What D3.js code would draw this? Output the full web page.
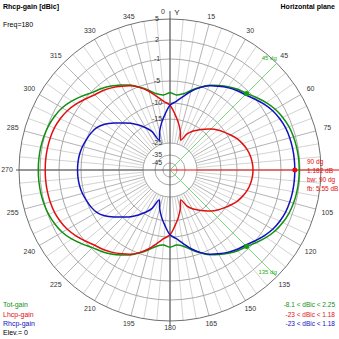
<!DOCTYPE html>
<html><head><meta charset="utf-8">
<script src="https://cdn.jsdelivr.net/npm/d3@7"></script>
<style>
html,body{margin:0;padding:0;background:#fff;}
svg{display:block;font-family:"Liberation Sans",Arial,sans-serif;}
</style></head><body>
<svg id="chart" width="339" height="339"></svg>
<script>
// Azimuth of each sample (degrees, clockwise from the Y axis)
const azimuths = [0,5,10,15,20,25,30,35,40,45,50,55,60,65,70,75,80,85,
  90,95,100,105,110,115,120,125,130,135,140,145,150,155,160,165,170,175,
  180,185,190,195,200,205,210,215,220,225,230,235,240,245,250,255,260,265,
  270,275,280,285,290,295,300,305,310,315,320,325,330,335,340,345,350,355];

// Gain per azimuth, dBic
const totGain = [-7.69,-8.09,-7.65,-6.48,-5.23,-4.18,-3.43,-2.69,-2.03,-1.49,-0.72,0.02,0.66,1.12,1.46,1.67,1.79,1.86,
  1.88,1.86,1.79,1.67,1.46,1.12,0.66,0.02,-0.72,-1.49,-2.03,-2.69,-3.43,-4.18,-5.23,-6.48,-7.65,-8.09,
  -7.69,-8.09,-7.65,-6.48,-5.23,-4.14,-3.35,-2.56,-1.85,-1.23,-0.39,0.44,1.13,1.57,1.89,2.07,2.18,2.23,
  2.25,2.23,2.18,2.07,1.89,1.57,1.13,0.44,-0.39,-1.23,-1.85,-2.56,-3.35,-4.14,-5.23,-6.48,-7.65,-8.09];
const lhcpGain = [-10.7,-13.4,-16.2,-19.6,-23.0,-19.8,-17.6,-15.9,-14.3,-12.8,-11.5,-10.3,-9.3,-8.4,-7.7,-7.1,-6.7,-6.45,
  -6.36,-6.45,-6.7,-7.1,-7.7,-8.4,-9.3,-10.3,-11.5,-12.8,-14.3,-15.9,-17.6,-19.8,-23.0,-19.6,-16.2,-13.4,
  -10.7,-9.6,-8.3,-6.7,-5.3,-4.3,-3.6,-2.9,-2.3,-1.82,-1.1,-0.4,0.2,0.6,0.9,1.05,1.13,1.17,
  1.18,1.17,1.13,1.05,0.9,0.6,0.2,-0.4,-1.1,-1.82,-2.3,-2.9,-3.6,-4.3,-5.3,-6.7,-8.3,-9.6];
const rhcpGain = [-10.7,-9.6,-8.3,-6.7,-5.3,-4.3,-3.6,-2.9,-2.3,-1.82,-1.1,-0.4,0.2,0.6,0.9,1.05,1.13,1.17,
  1.18,1.17,1.13,1.05,0.9,0.6,0.2,-0.4,-1.1,-1.82,-2.3,-2.9,-3.6,-4.3,-5.3,-6.7,-8.3,-9.6,
  -10.7,-13.4,-16.2,-19.6,-23.0,-18.6,-15.9,-13.8,-11.9,-10.2,-8.6,-7.1,-6.0,-5.4,-5.0,-4.7,-4.5,-4.4,
  -4.37,-4.4,-4.5,-4.7,-5.0,-5.4,-6.0,-7.1,-8.6,-10.2,-11.9,-13.8,-15.9,-18.6,-23.0,-19.6,-16.2,-13.4];

// Ring levels (dB) and azimuth tick labels
const ringLevels = [5, 2, -1, -5, -10, -15, -25, -35, -45];
const azTicks = [0,15,30,45,60,75,105,120,135,150,165,180,195,210,225,240,255,270,285,300,315,330,345];

// Main-lobe marker values
const peakAz = 90, peakGain = 1.182;
const beamEdges = [45, 135];
const beamGain = [-1.49, -1.49];
const infoLines = ["90 dg", "1.182 dB", "bw: 90 dg", "fb: 5.55 dB"];

const legendNames = ["Tot-gain", "Lhcp-gain", "Rhcp-gain"];
const legendRanges = ["-8.1 < dBic < 2.25", "-23 < dBic < 1.18", "-23 < dBic < 1.18"];
const seriesColors = ["#109010", "#e01010", "#1010c0"];

const svg = d3.select("#chart");
const cx = 170, cy = 170, R = 151;

// Radial gain scale (compressed towards the centre)
const r = d3.scaleLinear()
  .domain([-45, -35, -25, -15, -10, -5, -1, 2, 5])
  .range([7, 15, 27, 51, 67, 89, 111, 130, R])
  .clamp(true);
const a = d3.scaleLinear().domain([0, 360]).range([0, 2 * Math.PI]);
const pt = (az, rad) => [cx + rad * Math.sin(a(az)), cy - rad * Math.cos(a(az))];

const g = svg.append("g");

// Spokes every 5 degrees
const spokeAz = d3.range(0, 360, 5);
g.selectAll("line.spoke").data(spokeAz).join("line")
  .attr("x1", d => pt(d, r(-25))[0]).attr("y1", d => pt(d, r(-25))[1])
  .attr("x2", d => pt(d, R)[0]).attr("y2", d => pt(d, R)[1])
  .attr("stroke", d => d % 15 === 0 ? "#b4b4b4" : "#d4d4d4")
  .attr("stroke-width", 1);

// Rings
g.selectAll("circle.ring").data(ringLevels).join("circle")
  .attr("cx", cx).attr("cy", cy).attr("r", d => r(d))
  .attr("fill", "none")
  .attr("stroke", d => d === 5 ? "#707070" : "#a8a8a8")
  .attr("stroke-width", 1);

// Axes
g.append("line").attr("x1", cx).attr("x2", cx).attr("y1", cy - R - 8).attr("y2", cy + R + 5)
  .attr("stroke", "#555").attr("stroke-width", 1);
g.append("line").attr("x1", cx - R - 3).attr("x2", cx).attr("y1", cy).attr("y2", cy)
  .attr("stroke", "#555").attr("stroke-width", 1);

// Ring labels along the Y axis
g.selectAll("text.ringlab").data(ringLevels).join("text")
  .attr("x", cx - 13).attr("y", d => cy - r(d)).attr("dy", "0.35em")
  .attr("text-anchor", "middle").attr("font-size", 7).attr("fill", "#333")
  .text(d => d);

// Azimuth labels
g.selectAll("text.azlab").data(azTicks).join("text")
  .attr("x", d => pt(d, 158 + 5 * Math.abs(Math.sin(a(d))))[0] - (d === 0 ? 7 : 0))
  .attr("y", d => pt(d, 158 + 5 * Math.abs(Math.sin(a(d))))[1])
  .attr("dy", "0.35em").attr("text-anchor", "middle")
  .attr("font-size", 7).attr("fill", "#333")
  .text(d => d);
g.append("text").attr("x", cx + 7).attr("y", pt(0, 158)[1]).attr("dy", "0.35em")
  .attr("text-anchor", "middle").attr("font-size", 8).attr("fill", "#222").text("Y");

// Beamwidth lines
beamEdges.forEach((az, i) => {
  const e = pt(az, R);
  g.append("line").attr("x1", cx).attr("y1", cy).attr("x2", e[0]).attr("y2", e[1])
    .attr("stroke", "#7ad67a").attr("stroke-width", 1);
  g.append("text").attr("x", e[0]).attr("y", e[1] - 3)
    .attr("text-anchor", "end").attr("font-size", 6).attr("fill", "#20b020")
    .text(az + " dg");
});

// Peak direction line
g.append("line").attr("x1", cx).attr("y1", cy).attr("x2", 339).attr("y2", cy)
  .attr("stroke", "#e01010").attr("stroke-width", 1);

// Pattern curves
const radial = vals => d3.lineRadial()
  .angle((d, i) => a(azimuths[i]))
  .radius(d => r(d))
  .curve(d3.curveCatmullRomClosed.alpha(0.5))(vals);

[totGain, lhcpGain, rhcpGain].forEach((vals, i) => {
  g.append("path").attr("transform", `translate(${cx},${cy})`)
    .attr("d", radial(vals)).attr("fill", "none")
    .attr("stroke", seriesColors[i]).attr("stroke-width", 1.5);
});

// Markers
beamEdges.forEach((az, i) => {
  const p = pt(az, r(beamGain[i]));
  g.append("circle").attr("cx", p[0]).attr("cy", p[1]).attr("r", 2.5).attr("fill", "#10a010");
});
const pk = pt(peakAz, r(peakGain));
g.append("circle").attr("cx", pk[0]).attr("cy", pk[1]).attr("r", 2.5).attr("fill", "#e01010");

// Peak info
g.selectAll("text.info").data(infoLines).join("text")
  .attr("x", 307).attr("y", (d, i) => 162 + i * 9).attr("dy", "0.35em")
  .attr("font-size", 6.5).attr("fill", "#e01010").text(d => d);

// Titles
svg.append("text").attr("x", 3).attr("y", 7).attr("dy", "0.35em")
  .attr("font-size", 7).attr("font-weight", "bold").text("Rhcp-gain [dBic]");
svg.append("text").attr("x", 3).attr("y", 25).attr("dy", "0.35em")
  .attr("font-size", 7).text("Freq=180");
svg.append("text").attr("x", 335).attr("y", 7).attr("dy", "0.35em")
  .attr("text-anchor", "end").attr("font-size", 7).attr("font-weight", "bold").text("Horizontal plane");

// Legend
svg.selectAll("text.leg").data(legendNames).join("text")
  .attr("x", 3).attr("y", (d, i) => 305 + i * 9.5).attr("dy", "0.35em")
  .attr("font-size", 7).attr("fill", (d, i) => seriesColors[i]).text(d => d);
svg.append("text").attr("x", 3).attr("y", 333).attr("dy", "0.35em")
  .attr("font-size", 7).attr("fill", "#000").text("Elev.= 0");
svg.selectAll("text.rng").data(legendRanges).join("text")
  .attr("x", 335).attr("y", (d, i) => 305 + i * 9.5).attr("dy", "0.35em")
  .attr("text-anchor", "end").attr("font-size", 6.5)
  .attr("fill", (d, i) => seriesColors[i]).text(d => d);
</script>
</body></html>
